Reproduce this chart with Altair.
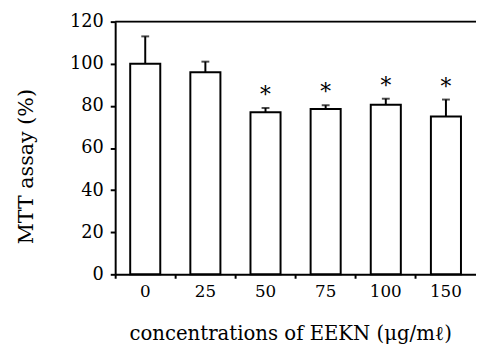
import altair as alt
import pandas as pd

conc = ["0", "25", "50", "75", "100", "150"]
mean = [100, 96, 77, 78.5, 80.5, 75]
sd = [13, 5, 2, 1.8, 2.9, 8]
stars = ["", "", "*", "*", "*", "*"]
y_ticks = [0, 20, 40, 60, 80, 100, 120]

df = pd.DataFrame({"conc": conc, "mean": mean, "sd": sd, "star": stars})
df["hi"] = df["mean"] + df["sd"]

W, H = 367, 257
FONT = "DejaVu Serif"

xenc = alt.X("conc:N", sort=conc,
             scale=alt.Scale(paddingInner=0, paddingOuter=0),
             axis=alt.Axis(title="concentrations of EEKN (μg/mℓ)", labelAngle=0,
                           bandPosition=0,
                           tickSize=4, tickWidth=2, tickColor="black",
                           domainWidth=2, domainColor="black",
                           labelFont=FONT, labelFontSize=17, labelColor="black",
                           labelPadding=6,
                           titleFont=FONT, titleFontSize=20, titleFontWeight="normal",
                           titleColor="black", titleX=178, titleY=60,
                           titleBaseline="middle", titleAlign="center"))
yscale = alt.Scale(domain=[0, 120], nice=False)
yenc = alt.Y("mean:Q", scale=yscale,
             axis=alt.Axis(title="MTT assay (%)", values=y_ticks, grid=False,
                           tickSize=5, tickWidth=2, tickColor="black",
                           domainWidth=2, domainColor="black",
                           labelFont=FONT, labelFontSize=18, labelColor="black",
                           labelPadding=7,
                           titleFont=FONT, titleFontSize=21, titleFontWeight="normal",
                           titleColor="black", titleX=-90, titleY=147,
                           titleAngle=270, titleBaseline="middle", titleAlign="center"))

base = alt.Chart(df)

bars = base.mark_bar(width=alt.RelativeBandSize(0.5), fill="white", stroke="black",
                     strokeWidth=2).encode(x=xenc, y=yenc)
err = base.mark_rule(color="black", strokeWidth=2).encode(
    x=alt.X("conc:N", sort=conc), y=alt.Y("mean:Q", scale=yscale), y2="hi:Q")
cap = base.mark_tick(color="black", thickness=2, size=8).encode(
    x=alt.X("conc:N", sort=conc), y=alt.Y("hi:Q", scale=yscale))
txt = base.mark_text(font=FONT, fontSize=22, color="black", baseline="middle",
                     dy=-13).encode(
    x=alt.X("conc:N", sort=conc), y=alt.Y("hi:Q", scale=yscale), text="star:N")
top = alt.Chart(pd.DataFrame({"a": [0]})).mark_rule(color="black", strokeWidth=2).encode(
    x=alt.value(0), x2=alt.value(W), y=alt.value(0))

chart = alt.layer(bars, err, cap, txt, top).properties(
    width=W, height=H,
    autosize=alt.AutoSizeParams(type="none"),
    padding={"left": 109, "top": 11, "right": 0, "bottom": 68},
).configure_view(stroke=None).configure(background="white")

chart.save("out.html", embed_options={"renderer": "svg", "actions": False})
